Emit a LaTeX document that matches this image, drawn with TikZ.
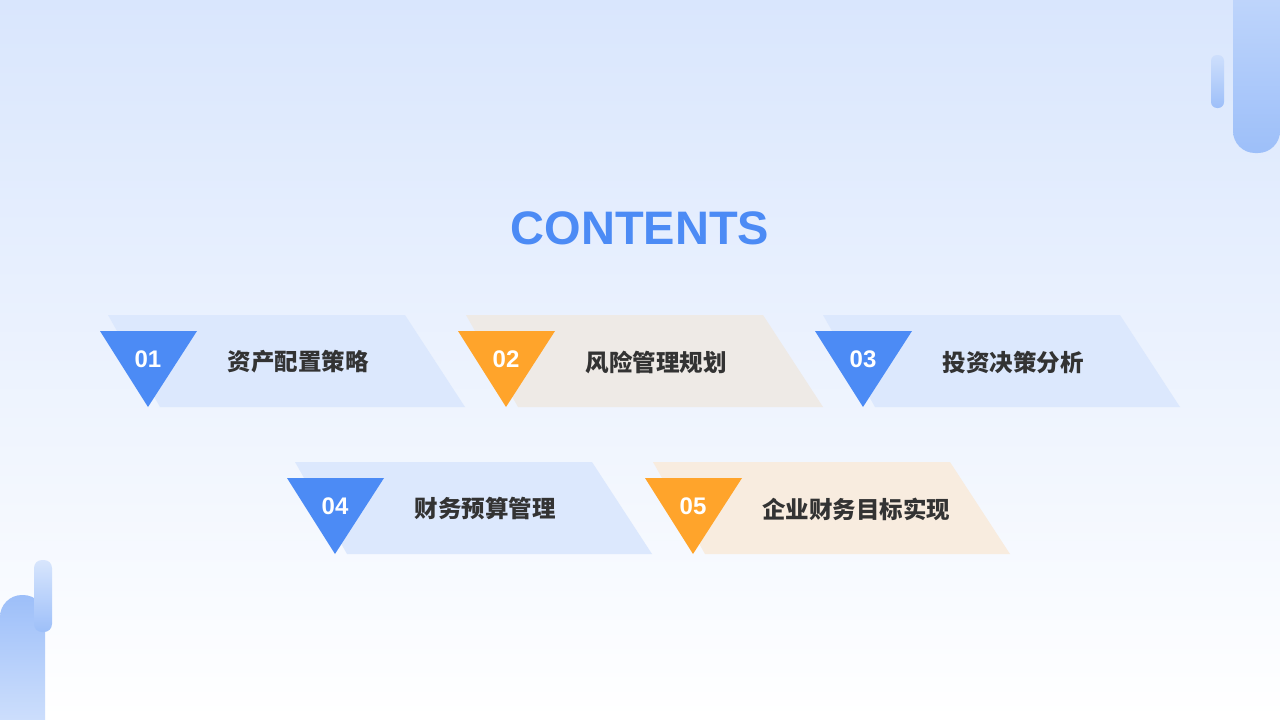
\documentclass[tikz,border=0pt]{standalone}
\usepackage{fontspec}
\setmainfont{Liberation Sans}
\newfontfamily\cjk{Noto Sans CJK SC}
\usetikzlibrary{positioning}
\definecolor{mainblue}{HTML}{4C8BF5}
\definecolor{mainorange}{HTML}{FFA42B}
\definecolor{bandblue}{HTML}{DCE8FD}
\definecolor{bandgray}{HTML}{EEEAE6}
\definecolor{bandorange}{HTML}{F8ECDF}
\definecolor{bgtop}{HTML}{D9E6FD}
\definecolor{barblue}{HTML}{9DBFF9}
\tikzstyle{numtext} = [text=white, font=\bfseries\fontsize{24}{24}\selectfont]
\tikzstyle{itemtext} = [text=black!80, font=\cjk\bfseries\fontsize{23.5}{24}\selectfont]
\begin{document}
\begin{tikzpicture}[x=1pt, y=-1pt]
  \useasboundingbox (0,0) rectangle (1280,720);
  \shade[top color=bgtop, bottom color=white] (0,0) rectangle (1280,720);
  % corner bars
  \shade[top color=barblue!60, bottom color=barblue, rounded corners=22pt] (1233,-30) rectangle (1280,153);
  \shade[top color=barblue!50, bottom color=barblue, rounded corners=6pt] (1211,55) rectangle (1224,108);
  \shade[top color=barblue, bottom color=barblue!40, rounded corners=22pt] (0,595) rectangle (45,750);
  \shade[top color=barblue!40, bottom color=barblue, rounded corners=8pt] (34,560) rectangle (52,632);
  \node[text=mainblue, font=\bfseries\fontsize{47}{47}\selectfont] (title) at (640,228) {CONTENTS};
  % items
  \foreach \x/\y/\n/\tri/\band/\dx/\txt in {
      100/315/01/mainblue/bandblue/198/资产配置策略,
      458/315/02/mainorange/bandgray/198/风险管理规划,
      815/315/03/mainblue/bandblue/198/投资决策分析,
      287/462/04/mainblue/bandblue/198/财务预算管理,
      645/462/05/mainorange/bandorange/211/企业财务目标实现} {
    \fill[\band] (\x+8,\y) -- (\x+305,\y) -- (\x+365,\y+92) -- (\x+60,\y+92) -- cycle;
    \fill[\tri] (\x,\y+16) -- (\x+97,\y+16) -- (\x+48,\y+92) -- cycle;
    \node[numtext] (num\n) at (\x+48,\y+44) {\n};
    \node[itemtext] (item\n) at (\x+\dx,\y+47) {\txt};
  }
\end{tikzpicture}
\end{document}
